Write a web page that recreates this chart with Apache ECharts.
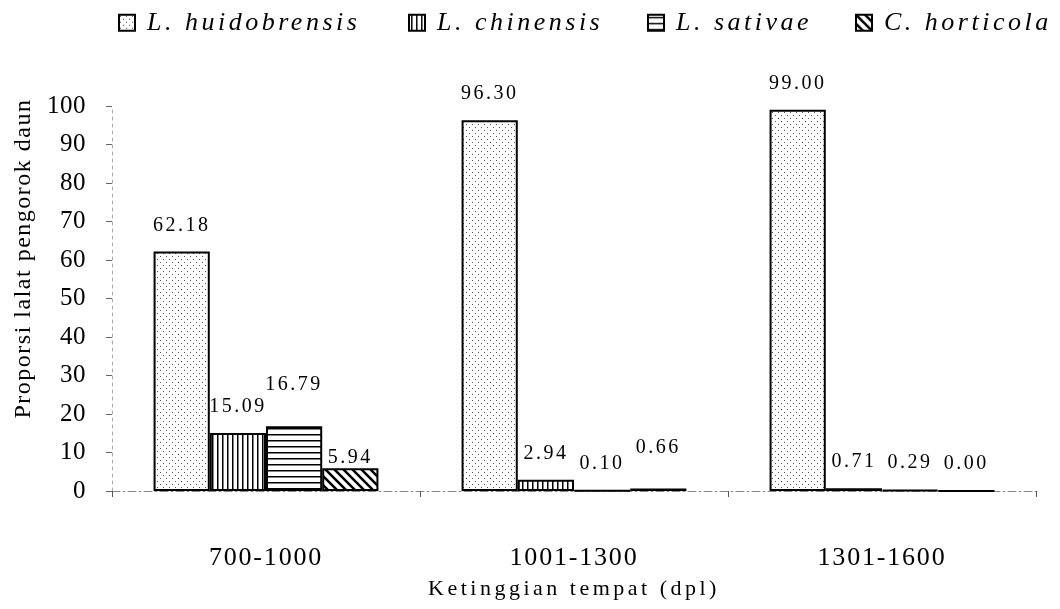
<!DOCTYPE html>
<html>
<head>
<meta charset="utf-8">
<script src="https://cdn.jsdelivr.net/npm/echarts@6/dist/echarts.min.js"></script>
<style>html,body{margin:0;padding:0;background:#fff}#c{width:1060px;height:609px}</style>
</head>
<body>
<div id="c"></div>
<script>
const categories = ['700-1000', '1001-1300', '1301-1600'];
const seriesNames = ['L. huidobrensis', 'L. chinensis', 'L. sativae', 'C. horticola'];
const huidobrensis = [62.18, 96.30, 99.00];
const chinensis = [15.09, 2.94, 0.71];
const sativae = [16.79, 0.10, 0.29];
const horticola = [5.94, 0.66, 0.00];
const yTicks = [0, 10, 20, 30, 40, 50, 60, 70, 80, 90, 100];

// label nudges (style only, px): the reference places a few value labels by hand
const labelNudge = [[0, 0, 0], [0, 0, 0], [-15, 0, 0], [16, -14, 0]];

// letter spacing emulation (the reference text is typeset with loose tracking)
(function () {
  const P = CanvasRenderingContext2D.prototype;
  const spacingFor = f => {
    if (/italic/.test(f)) return 3.5;
    const m = f.match(/(\d+(?:\.\d+)?)px/);
    const s = m ? +m[1] : 0;
    return ({ 25: 0.5, 26: 1.8, 20: 2.5, 22: 3.5, 24: 1.5 })[s] || 0;
  };
  ['fillText', 'strokeText', 'measureText'].forEach(fn => {
    const o = P[fn];
    P[fn] = function () {
      if ('letterSpacing' in this) this.letterSpacing = spacingFor(this.font) + 'px';
      return o.apply(this, arguments);
    };
  });
})();

function makePattern(kind) {
  const c = document.createElement('canvas');
  const ctx = c.getContext('2d');
  if (kind === 'dots') {
    c.width = 6; c.height = 6;
    ctx.fillStyle = '#fff'; ctx.fillRect(0, 0, 6, 6);
    ctx.fillStyle = '#555'; ctx.fillRect(1, 1, 1, 1);
    ctx.fillRect(4, 4, 1, 1);
  } else if (kind === 'vert') {
    c.width = 5; c.height = 5;
    ctx.fillStyle = '#fff'; ctx.fillRect(0, 0, 5, 5);
    ctx.fillStyle = '#000'; ctx.fillRect(2, 0, 1.5, 5);
  } else if (kind === 'horiz') {
    c.width = 6; c.height = 6;
    ctx.fillStyle = '#fff'; ctx.fillRect(0, 0, 6, 6);
    ctx.fillStyle = '#000'; ctx.fillRect(0, 2, 6, 1.5);
  } else {
    c.width = 9; c.height = 9;
    ctx.fillStyle = '#fff'; ctx.fillRect(0, 0, 9, 9);
    ctx.strokeStyle = '#000'; ctx.lineWidth = 2.5;
    ctx.beginPath();
    ctx.moveTo(-2, -2); ctx.lineTo(11, 11);
    ctx.moveTo(-11, -2); ctx.lineTo(2, 11);
    ctx.moveTo(7, -2); ctx.lineTo(20, 11);
    ctx.stroke();
  }
  return { image: c, repeat: 'repeat' };
}

const patterns = [makePattern('dots'), makePattern('vert'), makePattern('horiz'), makePattern('diag')];
const dataSets = [huidobrensis, chinensis, sativae, horticola];
const serif = 'Liberation Serif, Times New Roman, serif';
const legendLefts = [113, 403, 642, 850];

const chart = echarts.init(document.getElementById('c'), null, { renderer: 'canvas' });
chart.setOption({
  animation: false,
  backgroundColor: '#fff',
  legend: seriesNames.map((n, i) => ({
    top: 3, left: legendLefts[i],
    itemWidth: 16, itemHeight: 16,
    icon: 'rect',
    textStyle: { fontFamily: serif, fontStyle: 'italic', fontSize: 26, color: '#000', padding: [0, 0, 0, 7] },
    data: [n]
  })),
  grid: { left: 112, right: 24, top: 106, bottom: 118 },
  xAxis: {
    type: 'category',
    data: categories,
    name: 'Ketinggian tempat (dpl)',
    nameLocation: 'middle',
    nameGap: 84,
    nameTextStyle: { fontFamily: serif, fontSize: 22, color: '#000' },
    axisLine: { lineStyle: { color: '#888', width: 1, type: [8, 3, 2, 3] } },
    axisTick: { show: true, length: 6, lineStyle: { color: '#555' } },
    axisLabel: { fontFamily: serif, fontSize: 26, color: '#000', margin: 53 }
  },
  yAxis: {
    type: 'value',
    min: 0, max: 100, interval: 10,
    name: 'Proporsi lalat pengorok daun',
    nameLocation: 'middle',
    nameGap: 76,
    nameTextStyle: { fontFamily: serif, fontSize: 24, color: '#000', padding: [0, 0, 0, 80] },
    axisLine: { show: true, lineStyle: { color: '#aaa', width: 1, type: [3, 4] } },
    axisTick: { show: true, length: 6, lineStyle: { color: '#666' } },
    splitLine: { show: false },
    axisLabel: {
      fontFamily: serif, fontSize: 25, color: '#000', margin: 26,
      formatter: v => (yTicks.indexOf(v) >= 0 ? String(v) : '')
    }
  },
  series: dataSets.map((d, i) => ({
    name: seriesNames[i],
    type: 'bar',
    data: d.map((v, j) => ({ value: v, label: { offset: [0, labelNudge[i][j]] } })),
    barGap: '0%',
    barCategoryGap: '27%',
    itemStyle: { color: patterns[i], borderColor: '#000', borderWidth: 2 },
    label: {
      show: true, position: 'top', distance: 15,
      fontFamily: serif, fontSize: 20, color: '#000',
      formatter: p => p.value.toFixed(2)
    }
  }))
});
</script>
</body>
</html>
